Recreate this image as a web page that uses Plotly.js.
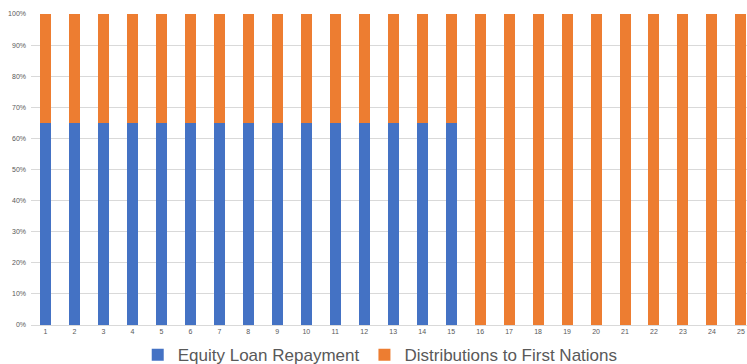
<!DOCTYPE html>
<html><head><meta charset="utf-8">
<script src="https://cdn.plot.ly/plotly-3.0.1.min.js"></script>
<style>html,body{margin:0;padding:0;background:#fff;}#chart{width:747px;height:364px;}</style>
</head><body><div id="chart"></div>
<script>
const years = [1,2,3,4,5,6,7,8,9,10,11,12,13,14,15,16,17,18,19,20,21,22,23,24,25];
const equityLoanRepayment = [65,65,65,65,65,65,65,65,65,65,65,65,65,65,65,0,0,0,0,0,0,0,0,0,0];
const distributionsFirstNations = [35,35,35,35,35,35,35,35,35,35,35,35,35,35,35,100,100,100,100,100,100,100,100,100,100];
const yTicks = [0,10,20,30,40,50,60,70,80,90,100];

const traces = [
  {type:'bar', x: years, y: equityLoanRepayment, name:'Equity Loan Repayment', marker:{color:'#4472C4'}, hoverinfo:'y'},
  {type:'bar', x: years, y: distributionsFirstNations, name:'Distributions to First Nations', marker:{color:'#ED7D31'}, hoverinfo:'y'}
];
const layout = {
  width:747, height:364,
  margin:{l:31, r:0, t:14, b:39},
  barmode:'stack', bargap:0.62,
  paper_bgcolor:'#fff', plot_bgcolor:'#fff',
  font:{family:'Liberation Sans, Arial, sans-serif', color:'#595959'},
  xaxis:{range:[0.5,25.21], tickvals:years, ticktext:years.map(String), showgrid:false, zeroline:false,
         showline:true, linecolor:'#D9D9D9', linewidth:1, ticks:'', tickfont:{size:7, color:'#595959'}},
  yaxis:{range:[0,100], tickvals:yTicks, ticktext:yTicks.map(v=>v+'%'), showgrid:true, gridcolor:'#D9D9D9', gridwidth:1,
         zeroline:false, showline:false, ticks:'', tickfont:{size:7, color:'#595959'}, ticklabelstandoff:4},
  legend:{orientation:'h', x:0.509, xanchor:'center', xref:'container', y:0.024, yanchor:'middle', yref:'container',
          bgcolor:'rgba(0,0,0,0)', font:{size:17, color:'#595959'}, itemwidth:30, traceorder:'normal'},
  showlegend:true
};
Plotly.newPlot('chart', traces, layout, {displayModeBar:false, staticPlot:true});
</script></body></html>
